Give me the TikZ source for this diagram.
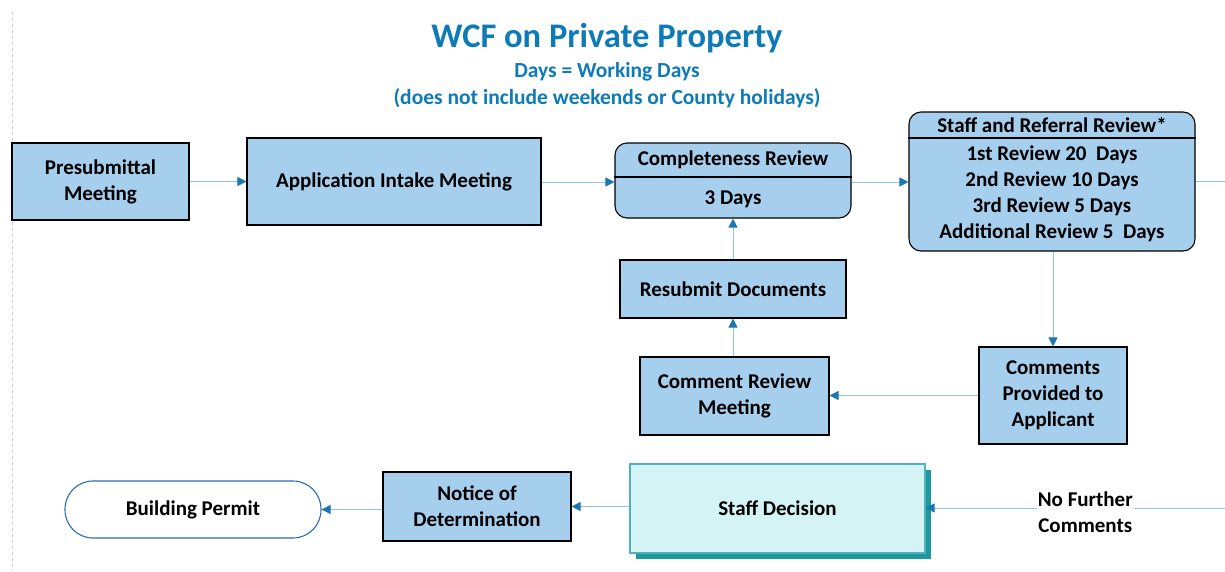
\documentclass[tikz,border=0pt]{standalone}
\usepackage{fontspec}
\setmainfont{Carlito}
\usetikzlibrary{arrows.meta,shadows,calc}
\definecolor{titleblue}{RGB}{14,122,184}
\definecolor{boxblue}{RGB}{166,206,237}
\definecolor{flowline}{RGB}{140,198,228}
\definecolor{headblue}{RGB}{28,118,176}
\definecolor{sdfill}{RGB}{211,243,245}
\definecolor{sdborder}{RGB}{78,178,188}
\definecolor{sdshadow}{RGB}{30,152,158}
\definecolor{permitborder}{RGB}{40,110,170}
\tikzset{
  stepbox/.style={draw=black, line width=1.1pt, fill=boxblue, font=\bfseries\fontsize{21}{26}\selectfont, align=center, inner sep=2pt},
  roundbox/.style={stepbox, rounded corners=12pt},
  txt/.style={font=\bfseries\fontsize{21}{26}\selectfont, align=center, inner sep=0pt},
  flow/.style={draw=flowline, line width=1pt, -{Triangle[length=9pt,width=9pt,color=headblue]}},
}
\begin{document}
\begin{tikzpicture}[x=1pt,y=-1pt]
\useasboundingbox (0,0) rectangle (1225,571);
% left dashed frame line
\draw[gray!40, dashed, line width=0.8pt] (12,12) -- (12,571);
% titles
\node[font=\bfseries\fontsize{34.5}{36}\selectfont, text=titleblue, inner sep=0pt] (title) at (607,38) {WCF on Private Property};
\node[font=\bfseries\fontsize{21.5}{24}\selectfont, text=titleblue, inner sep=0pt] (sub1) at (607,72) {Days = Working Days};
\node[font=\bfseries\fontsize{21.5}{24}\selectfont, text=titleblue, inner sep=0pt] (sub2) at (607,98) {(does not include weekends or County holidays)};
% boxes
\node[stepbox, minimum width=177pt, minimum height=77pt] (pre) at (100.5,181.5) {Presubmittal\\Meeting};
\node[stepbox, minimum width=294pt, minimum height=87pt] (app) at (394,181.5) {Application Intake Meeting};
\node[roundbox, minimum width=236pt, minimum height=75pt] (cr) at (733,180.5) {};
\draw[line width=1.1pt] (cr.west |- 0,177) -- (cr.east |- 0,177);
\node[txt] (crh) at (733,160) {Completeness Review};
\node[txt] (crd) at (733,199) {3 Days};
\node[roundbox, minimum width=286pt, minimum height=139pt] (srr) at (1052,181.5) {};
\draw[line width=1.1pt] (srr.west |- 0,138) -- (srr.east |- 0,138);
\node[txt] (srrh) at (1052,125) {Staff and Referral Review*};
\node[txt] (srr1) at (1052,155) {1st Review 20\ \ Days};
\node[txt] (srr2) at (1052,181) {2nd Review 10 Days};
\node[txt] (srr3) at (1052,207) {3rd Review 5 Days};
\node[txt] (srr4) at (1052,233) {Additional Review 5\ \ Days};
\coordinate (rightout) at (1225,181.5);
\node[stepbox, minimum width=226pt, minimum height=58pt] (res) at (733,289) {Resubmit Documents};
\node[stepbox, minimum width=189pt, minimum height=78pt] (crm) at (734.5,396) {Comment Review\\Meeting};
\node[stepbox, minimum width=148pt, minimum height=97pt] (cpa) at (1053,395.5) {Comments\\Provided to\\Applicant};
\node[draw=permitborder, line width=1.1pt, fill=white, rounded corners=28pt, minimum width=256pt, minimum height=57pt, font=\bfseries\fontsize{21}{26}\selectfont] (bp) at (193,509.5) {Building Permit};
\node[stepbox, minimum width=188pt, minimum height=69pt] (nod) at (477,506.5) {Notice of\\Determination};
\node[draw=sdborder, line width=1.1pt, fill=sdfill, minimum width=295pt, minimum height=89pt, font=\bfseries\fontsize{21}{26}\selectfont, drop shadow={shadow xshift=6pt, shadow yshift=-6pt, fill=sdshadow, opacity=1}] (sd) at (777.5,508.5) {Staff Decision};
\coordinate (rightin) at (1225,508);
% connectors
\draw[flow] (pre) -- (app);
\draw[flow] (app.east |- 0,182) -- (cr.west |- 0,182);
\draw[flow] (cr.east |- 0,182) -- (srr.west |- 0,182);
\draw[draw=flowline, line width=1pt] (srr.east |- rightout) -- (rightout);
\draw[flow] (srr.south -| cpa.north) -- (cpa.north);
\draw[flow] (cpa.west) -- (cpa.west -| crm.east);
\draw[flow] (crm.north -| res.south) -- (res.south);
\draw[flow] (res.north) -- (res.north |- cr.south);
\draw[flow] (rightin) -- node[pos=0.5, fill=white, txt, inner sep=1pt, xshift=10pt, yshift=-4pt] (nfc) {No Further\\Comments} (rightin -| sd.east);
\draw[flow] (sd.west |- nod.east) -- (nod.east);
\draw[flow] (nod.west |- bp.east) -- (bp.east);
\end{tikzpicture}
\end{document}
